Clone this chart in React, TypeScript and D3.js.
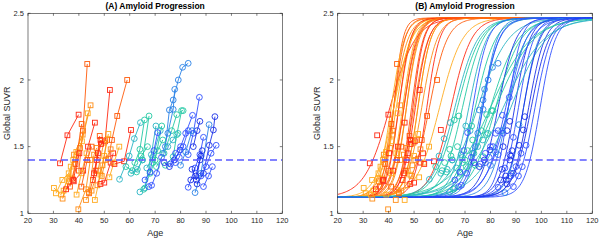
import React from "react";
import * as d3 from "d3";

// ---- data ----
const palette = ["#ff2a14", "#ff5a0a", "#ff8c14", "#ffaa1e", "#22c8a4", "#2ab4c4", "#2a82e6", "#3050ff", "#1a30e6"];
const markerShape = ["s", "s", "s", "s", "o", "o", "o", "o", "o"];

const subjectColor = [
  0, 1, 3, 2, 3, 2, 1, 0, 2, 3, 0, 2, 1, 0, 3, 2, 1, 0, 3, 0, 2, 3, 1, 0, 2,
  5, 4, 4, 5, 4, 4, 4, 5, 6, 6, 7, 7, 8, 7, 7, 8, 7, 6, 8, 5, 4, 7, 6, 8, 7, 8, 5, 4, 7,
];

const subjectAges: number[][] = [
  [32.6, 35.5, 39.9], [40.0, 41.6, 43.3], [30.2, 33.0, 35.9, 37.8], [33.6, 36.2, 38.1, 41.5],
  [34.0, 36.8, 39.0, 41.2, 43.5], [37.5, 40.5, 44.6], [36.5, 38.7, 41.1], [38.0, 41.7, 43.6, 46.3],
  [39.8, 42.8, 44.5], [39.1, 41.0, 43.0], [35.0, 37.8, 40.2], [42.8, 45.0, 47.5, 49.8],
  [44.0, 46.6, 48.2], [45.5, 47.0, 48.7, 50.3, 52.2], [46.3, 48.5, 50.0, 51.6], [47.3, 49.3, 51.0],
  [51.6, 53.0, 55.1, 59.0], [48.5, 50.0, 52.5, 53.5], [52.0, 53.8, 55.9], [54.0, 57.8, 60.5],
  [44.0, 46.0, 47.0], [31.0, 33.5, 36.0], [41.0, 43.3, 45.0], [46.0, 47.5, 48.5], [49.0, 50.5, 52.5],
  [56.0, 59.8, 61.8, 64.2], [58.5, 61.0, 64.0, 65.8], [62.7, 65.0, 67.6], [64.0, 66.0, 68.5, 70.3],
  [65.5, 68.0, 70.0, 72.6], [70.5, 73.5, 76.5, 78.5], [74.0, 77.1, 78.5, 80.4, 81.0], [66.7, 69.0, 72.0],
  [74.0, 75.6, 77.1, 79.1, 80.8, 83.0], [73.0, 75.0, 77.1, 77.7], [66.0, 68.0, 69.5, 71.0],
  [67.5, 68.6, 70.6, 72.5], [73.6, 75.6, 77.6, 79.8], [76.0, 78.0, 80.0, 82.0, 84.7], [83.0, 85.0, 87.4],
  [85.0, 86.5, 87.6], [83.0, 85.7, 87.6, 89.0], [85.7, 88.0, 91.2], [86.5, 89.0, 91.3, 92.9, 93.5],
  [75.0, 77.0, 79.0], [69.0, 71.0, 73.0], [88.0, 90.0, 92.0, 94.0], [80.0, 82.0, 84.5],
  [84.5, 86.2, 87.6, 88.5], [78.0, 79.5, 81.0, 83.0], [84.0, 86.0, 88.0], [60.5, 63.0, 65.0],
  [62.0, 64.5, 67.0], [89.0, 91.0, 92.5],
];

const subjectSuvr: number[][] = [
  [1.375, 1.585, 1.74], [1.32, 1.62, 2.12], [1.19, 1.14, 1.26, 1.40], [1.11, 1.24, 1.44, 1.59],
  [1.17, 1.35, 1.46, 1.54, 1.75], [1.26, 1.49, 1.81], [1.20, 1.37, 1.67], [1.24, 1.32, 1.50, 1.68],
  [1.03, 1.18, 1.40], [1.14, 1.30, 1.45], [1.18, 1.25, 1.45], [1.10, 1.17, 1.32, 1.53],
  [1.15, 1.32, 1.58], [1.25, 1.40, 1.52, 1.54, 1.925], [1.10, 1.29, 1.43, 1.595], [1.21, 1.36, 1.55],
  [1.41, 1.55, 1.73, 2.00], [1.22, 1.23, 1.38, 1.45], [1.27, 1.38, 1.50], [1.37, 1.39, 1.625],
  [1.16, 1.44, 1.49], [1.15, 1.25, 1.30], [1.20, 1.40, 1.50], [1.30, 1.45, 1.55], [1.28, 1.40, 1.48],
  [1.255, 1.43, 1.56, 1.68], [1.35, 1.32, 1.48, 1.70], [1.31, 1.40, 1.73], [1.16, 1.19, 1.44, 1.655],
  [1.18, 1.30, 1.40, 1.655], [1.35, 1.45, 1.62, 1.74], [1.36, 1.425, 1.59, 1.77, 1.77], [1.34, 1.42, 1.62],
  [1.50, 1.775, 1.85, 2.0, 2.095, 2.125], [1.45, 1.60, 1.78, 1.93], [1.25, 1.31, 1.47, 1.605],
  [1.20, 1.21, 1.30, 1.42], [1.38, 1.35, 1.40, 1.475], [1.37, 1.45, 1.50, 1.60, 1.735], [1.44, 1.60, 1.87],
  [1.50, 1.62, 1.69], [1.195, 1.34, 1.44, 1.57], [1.155, 1.30, 1.665], [1.22, 1.30, 1.51, 1.625, 1.725],
  [1.50, 1.55, 1.60], [1.38, 1.47, 1.55], [1.28, 1.35, 1.45, 1.51], [1.36, 1.46, 1.62],
  [1.33, 1.25, 1.40, 1.47], [1.38, 1.42, 1.50, 1.62], [1.25, 1.28, 1.43], [1.30, 1.33, 1.40],
  [1.38, 1.43, 1.50], [1.20, 1.28, 1.35],
];

// fitted sigmoid parameters per subject (midpoint age, scale in years)
const curveMid = [
  40.5, 42, 41, 42, 43, 44, 42, 46, 47, 45.5, 44, 50, 49, 50.5, 51.5, 51.5, 56, 55, 60, 64.5, 47, 42, 46, 49.5, 53,
  66, 67, 69, 71.5, 74, 80, 82, 75, 76.5, 77, 73, 77, 83, 86, 87, 89.5, 91, 93, 95, 88, 82, 97.5, 87, 93, 87, 96, 85, 80, 99.5,
];
const curveScale = [
  5, 1.8, 2.6, 2.8, 2.8, 2.5, 2.2, 2.7, 2.5, 2.5, 2.3, 2.8, 2.3, 2.6, 2.5, 2.5, 3.5, 2.5, 4.5, 4, 2.3, 3.5, 2.5, 2.2, 3,
  4.5, 4.5, 4, 3.5, 4, 5.5, 5, 6, 3.5, 2.8, 3, 3.2, 3.5, 4, 2.5, 3, 3, 3, 3.2, 7, 7.5, 3.3, 3.5, 3.2, 4.5, 3.5, 8, 8, 3,
];
const curveLow = 1.12;
const curveHigh = 2.465;

const xTicks = [20, 30, 40, 50, 60, 70, 80, 90, 100, 110, 120];
const yTicks = [1, 1.5, 2, 2.5];
const yTickLabels = ["1", "1.5", "2", "2.5"];
const threshold = 1.4;
const titles = ["(A) Amyloid Progression", "(B) Amyloid Progression"];
const curveAges = d3.range(20, 120.01, 0.5);

// ---- layout ----
const W = 600, H = 240;
const top = 13.3, bottom = 213.3;
const panels = [
  { left: 28, right: 282.3 },
  { left: 337.7, right: 592.3 },
];
const axisColor = "#262626";
const font = "'Liberation Sans', Arial, Helvetica, sans-serif";

function Marker({ x, y, shape, color }: { x: number; y: number; shape: string; color: string }) {
  if (shape === "s")
    return <rect x={x - 2.4} y={y - 2.4} width={4.8} height={4.8} fill="none" stroke={color} strokeWidth={0.9} />;
  return <circle cx={x} cy={y} r={2.9} fill="none" stroke={color} strokeWidth={0.9} />;
}

function Panel({ idx }: { idx: number }) {
  const { left, right } = panels[idx];
  const x = d3.scaleLinear().domain([20, 120]).range([left, right]);
  const y = d3.scaleLinear().domain([1, 2.5]).range([bottom, top]);
  const line = d3.line<[number, number]>().x((d) => x(d[0])).y((d) => y(d[1]));
  const clipId = `clip${idx}`;
  const cx = (left + right) / 2;
  return (
    <g>
      <defs>
        <clipPath id={clipId}>
          <rect x={left} y={top} width={right - left} height={bottom - top} />
        </clipPath>
      </defs>
      <rect x={left} y={top} width={right - left} height={bottom - top} fill="#fff" />
      <g clipPath={`url(#${clipId})`}>
        {idx === 1 &&
          subjectColor.map((c, i) => {
            const pts: [number, number][] = curveAges.map((a) => [
              a,
              curveLow + (curveHigh - curveLow) / (1 + Math.exp(-(a - curveMid[i]) / curveScale[i])),
            ]);
            return <path key={"c" + i} d={line(pts) || ""} fill="none" stroke={palette[c]} strokeWidth={0.9} />;
          })}
        {subjectColor.map((c, i) => {
          const pts: [number, number][] = subjectAges[i].map((a, j) => [a, subjectSuvr[i][j]]);
          return (
            <g key={"s" + i}>
              {idx === 0 && <path d={line(pts) || ""} fill="none" stroke={palette[c]} strokeWidth={0.9} />}
              {pts.map((p, j) => (
                <Marker key={j} x={x(p[0])} y={y(p[1])} shape={markerShape[c]} color={palette[c]} />
              ))}
            </g>
          );
        })}
        <line x1={left} x2={right} y1={y(threshold)} y2={y(threshold)} stroke="#5a5aff" strokeWidth={1.5} strokeDasharray="7,4" />
      </g>
      <rect x={left} y={top} width={right - left} height={bottom - top} fill="none" stroke={axisColor} strokeWidth={0.6} />
      {xTicks.map((t) => (
        <g key={"x" + t}>
          <line x1={x(t)} x2={x(t)} y1={bottom} y2={bottom - 2.5} stroke={axisColor} strokeWidth={0.6} />
          <line x1={x(t)} x2={x(t)} y1={top} y2={top + 2.5} stroke={axisColor} strokeWidth={0.6} />
          <text x={x(t)} y={bottom + 10} textAnchor="middle" fontSize={7.5} fill={axisColor} fontFamily={font}>
            {t}
          </text>
        </g>
      ))}
      {yTicks.map((t, k) => (
        <g key={"y" + t}>
          <line x1={left} x2={left + 2.5} y1={y(t)} y2={y(t)} stroke={axisColor} strokeWidth={0.6} />
          <line x1={right} x2={right - 2.5} y1={y(t)} y2={y(t)} stroke={axisColor} strokeWidth={0.6} />
          <text x={left - 4} y={y(t) + 2.7} textAnchor="end" fontSize={7.5} fill={axisColor} fontFamily={font}>
            {yTickLabels[k]}
          </text>
        </g>
      ))}
      <text x={cx} y={236} textAnchor="middle" fontSize={9} fill={axisColor} fontFamily={font}>
        Age
      </text>
      <text
        transform={`translate(${left - 18},${(top + bottom) / 2}) rotate(-90)`}
        textAnchor="middle"
        fontSize={9}
        fill={axisColor}
        fontFamily={font}
      >
        Global SUVR
      </text>
      <text x={cx} y={8.5} textAnchor="middle" fontSize={8.5} fontWeight="bold" fill="#000" fontFamily={font}>
        {titles[idx]}
      </text>
    </g>
  );
}

export default function App() {
  return (
    <svg
      width={W}
      height={H}
      viewBox={`0 0 ${W} ${H}`}
      style={{ position: "absolute", left: 0, top: 0, background: "#fff" }}
    >
      <rect width={W} height={H} fill="#fff" />
      <Panel idx={0} />
      <Panel idx={1} />
    </svg>
  );
}
